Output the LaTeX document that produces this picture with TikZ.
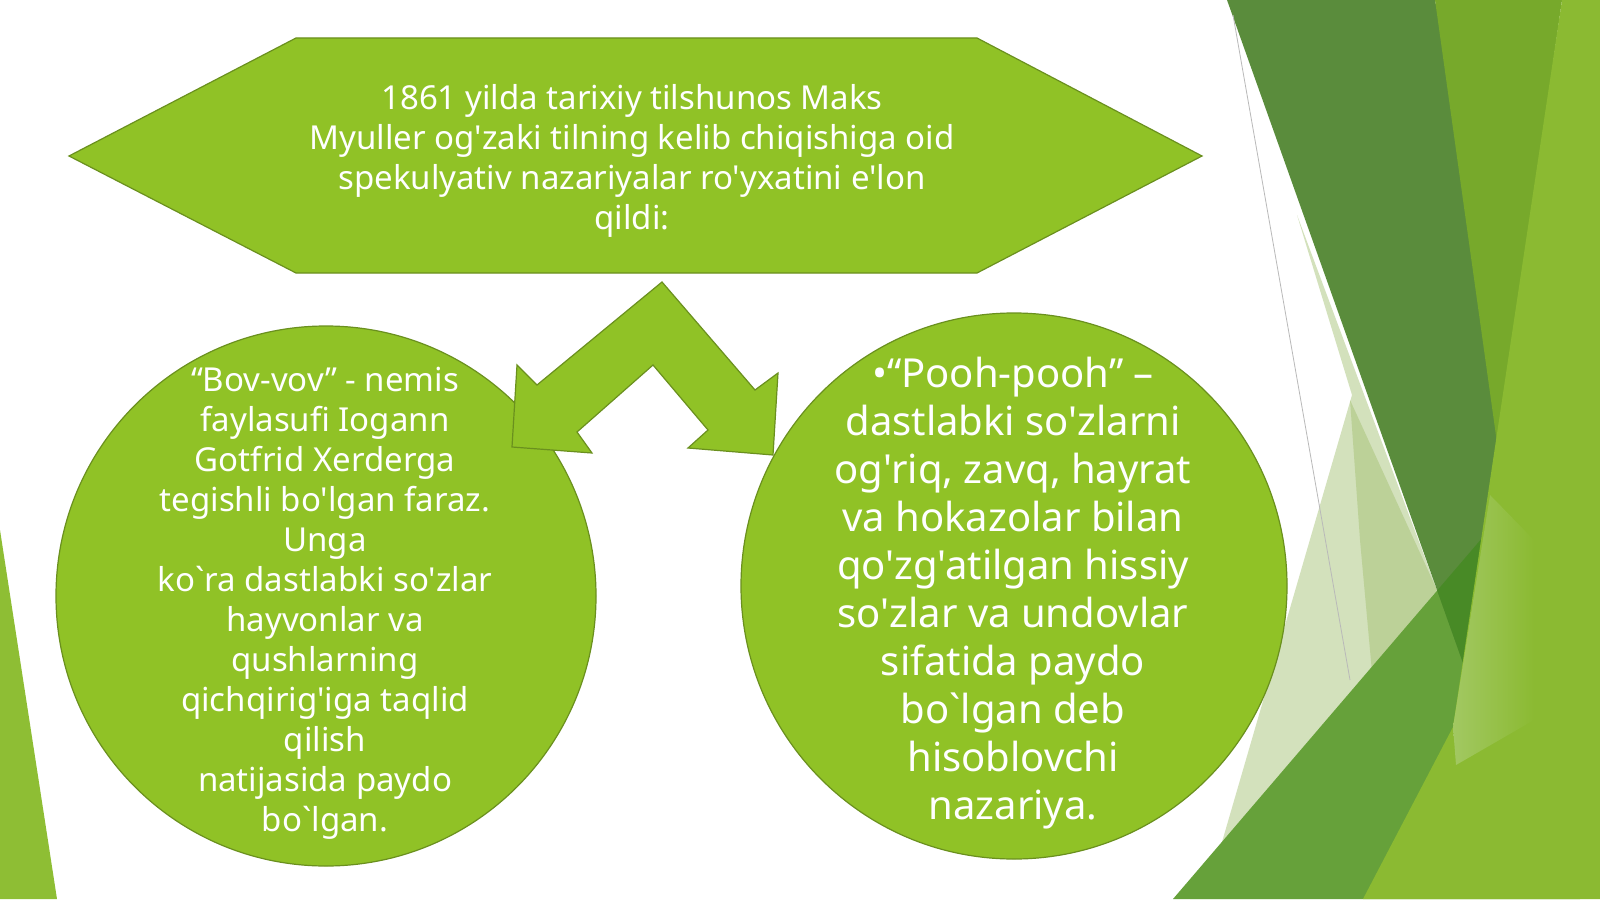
\documentclass[tikz,border=0pt]{standalone}
\usepackage{fontspec}
\setmainfont{Noto Sans}[Ligatures=TeXOff]
\definecolor{leaf}{HTML}{90C226}
\definecolor{leafline}{HTML}{6A901E}
\definecolor{pale}{HTML}{D3E1BC}
\definecolor{paledeep}{HTML}{BCD198}
\definecolor{darkband}{HTML}{5A8C3C}
\definecolor{midband}{HTML}{66A13A}
\definecolor{overlap}{HTML}{488A26}
\definecolor{rtri}{HTML}{77A92B}
\definecolor{light}{HTML}{8BBA32}
\definecolor{lstrip}{HTML}{A2C862}
\definecolor{edgegreen}{HTML}{8EBE34}
\begin{document}
\begin{tikzpicture}[x=1pt,y=-1pt,
  shapebox/.style={fill=leaf,draw=leafline,line width=1.2pt},
  txt/.style={text=white,align=center,inner sep=0pt}]
\useasboundingbox (0,0) rectangle (1600,899);
\fill[white] (0,0) rectangle (1600,899);
% right decoration
\fill[pale] (1297,215) -- (1352,395) -- (1222,842) -- (1190,899) -- (1300,899) -- (1480,600) -- (1437,590) -- cycle;
\fill[paledeep] (1350,400) -- (1437,590) -- (1372,672) -- (1360,540) -- cycle;
\fill[midband] (1173,899) -- (1483,537) -- (1580,537) -- (1580,899) -- cycle;
\fill[darkband] (1227,0) -- (1435,0) -- (1520,450) -- (1463,663) -- cycle;
\begin{scope}
\clip (1173,899) -- (1483,537) -- (1580,537) -- (1580,899) -- cycle;
\fill[overlap] (1227,0) -- (1435,0) -- (1520,450) -- (1463,663) -- cycle;
\end{scope}
\fill[rtri] (1435,0) -- (1562,0) -- (1498,450) -- cycle;
\fill[light] (1562,0) -- (1600,0) -- (1600,899) -- (1363,899) -- (1453,727) -- cycle;
\shade[left color=lstrip,right color=light] (1490,495) -- (1534,540) -- (1534,720) -- (1456,765) -- (1453,727) -- cycle;
\draw[gray!55,line width=0.8pt] (1233,15) -- (1350,680);
% left edge
\fill[edgegreen] (0,530) -- (57,899) -- (0,899) -- cycle;
% hexagon
\draw[shapebox] (69,156) -- (296,38) -- (977,38) -- (1202,156) -- (977,273) -- (296,273) -- cycle;
\node[txt,font=\fontsize{33}{40}\selectfont] (toptext) at (632,161)
 {1861 yilda tarixiy tilshunos Maks\\Myuller og'zaki tilning kelib chiqishiga oid\\spekulyativ nazariyalar ro'yxatini e'lon\\qildi:};
% circles
\node[shapebox,circle,minimum size=540pt,inner sep=0pt] (leftc) at (326,596) {};
\node[shapebox,circle,minimum size=546pt,inner sep=0pt] (rightc) at (1014,586) {};
% double arrow
\draw[shapebox] (662,282) -- (755,390) -- (778,373) -- (773,455) -- (688,448) -- (708,430)
  -- (653,365) -- (577,432) -- (592,453) -- (512,447) -- (517,365) -- (537,385) -- cycle;
\node[txt,font=\fontsize{33}{40}\selectfont] (lefttext) at (325,603)
 {“Bov-vov” - nemis\\faylasufi Iogann\\Gotfrid Xerderga\\tegishli bo'lgan faraz.\\Unga\\ko`ra dastlabki so'zlar\\hayvonlar va\\qushlarning\\qichqirig'iga taqlid\\qilish\\natijasida paydo\\bo`lgan.};
\node[txt,font=\fontsize{40}{48}\selectfont] (righttext) at (1013,593)
 {•“Pooh-pooh” –\\dastlabki so'zlarni\\og'riq, zavq, hayrat\\va hokazolar bilan\\qo'zg'atilgan hissiy\\so'zlar va undovlar\\sifatida paydo\\bo`lgan deb\\hisoblovchi\\nazariya.};
\end{tikzpicture}
\end{document}
